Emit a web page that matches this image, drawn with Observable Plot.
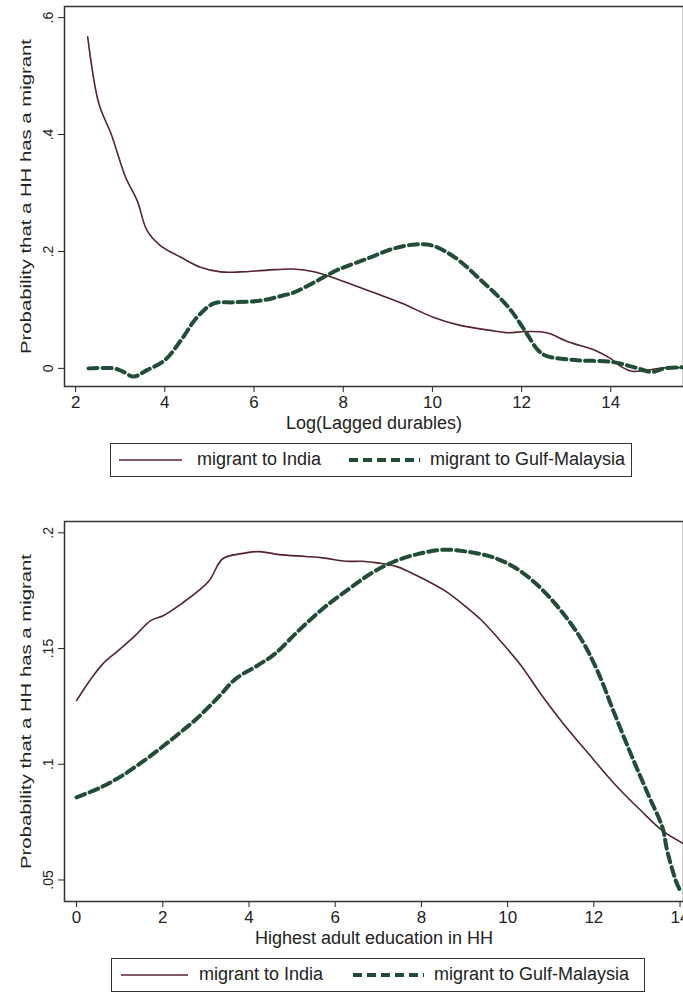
<!DOCTYPE html>
<html>
<head>
<meta charset="utf-8">
<script src="https://cdn.jsdelivr.net/npm/d3@7"></script>
<script src="https://cdn.jsdelivr.net/npm/@observablehq/plot@0.6"></script>
<style>
  html, body { margin: 0; padding: 0; background: #fff; }
  #wrap { position: relative; width: 683px; height: 992px; overflow: hidden; font-family: "Liberation Sans", Arial, sans-serif; color: #222; }
  .panel { position: absolute; left: 0; }
  .legend { position: absolute; box-sizing: border-box; border: 1.5px solid #333; height: 34px; font-size: 18px; }
  .legend .sw { position: absolute; top: 0; }
  .legend .lab { position: absolute; top: 5px; white-space: nowrap; }
  svg g[aria-label^="y-axis"] text { font-size: 14px; }
  svg g[aria-label^="x-axis"] text { font-size: 17px; }
</style>
</head>
<body>
<div id="wrap"></div>
<script>
// ---- Panel 1: Log(Lagged durables) ----
const durIndiaX = [2.27, 2.52, 2.8, 3.12, 3.38, 3.6, 3.9, 4.36, 4.8, 5.25, 5.7, 6.3, 6.87, 7.37, 7.96, 8.64, 9.33, 10.0, 10.6, 11.3, 11.7, 12.07, 12.56, 13.06, 13.64, 13.99, 14.23, 14.48, 14.82, 15.21, 15.6];
const durIndiaY = [0.567, 0.453, 0.400, 0.327, 0.287, 0.236, 0.210, 0.190, 0.173, 0.165, 0.165, 0.168, 0.170, 0.165, 0.150, 0.131, 0.111, 0.088, 0.074, 0.065, 0.061, 0.063, 0.061, 0.045, 0.031, 0.017, 0.003, -0.005, -0.003, 0.001, 0.001];
const durGulfX = [2.29, 2.86, 3.05, 3.3, 3.6, 4.0, 4.36, 4.73, 5.1, 5.55, 6.15, 6.67, 6.87, 7.37, 7.86, 8.55, 9.13, 9.62, 10.0, 10.5, 11.1, 11.7, 12.07, 12.37, 12.57, 13.25, 14.03, 14.52, 14.92, 15.2, 15.6];
const durGulfY = [0.000, 0.000, -0.005, -0.014, -0.003, 0.014, 0.048, 0.088, 0.111, 0.113, 0.116, 0.125, 0.129, 0.148, 0.168, 0.188, 0.205, 0.212, 0.210, 0.190, 0.150, 0.105, 0.065, 0.031, 0.021, 0.014, 0.011, 0.002, -0.006, 0.000, 0.002];
const durXTicks = [2, 4, 6, 8, 10, 12, 14];
const durYTicks = [0, 0.2, 0.4, 0.6];

// ---- Panel 2: Highest adult education in HH ----
const eduIndiaX = [0, 0.30, 0.61, 0.96, 1.36, 1.72, 2.02, 2.48, 2.83, 3.08, 3.39, 3.79, 4.24, 4.70, 5.31, 5.71, 6.27, 6.62, 7.02, 7.43, 7.73, 8.09, 8.54, 8.95, 9.40, 9.86, 10.31, 10.77, 11.27, 11.88, 12.48, 13.09, 13.59, 14.08];
const eduIndiaY = [0.1275, 0.136, 0.1434, 0.149, 0.1556, 0.1621, 0.1643, 0.170, 0.175, 0.1794, 0.1888, 0.1909, 0.1919, 0.1906, 0.1898, 0.1892, 0.1877, 0.1877, 0.1869, 0.1854, 0.183, 0.1797, 0.175, 0.1693, 0.1621, 0.1527, 0.1427, 0.1304, 0.1181, 0.1045, 0.0915, 0.080, 0.0713, 0.0657];
const eduGulfX = [0, 0.56, 1.06, 1.67, 2.27, 2.78, 3.29, 3.69, 4.20, 4.60, 5.11, 5.71, 6.32, 6.82, 7.33, 7.93, 8.54, 9.15, 9.65, 10.16, 10.66, 11.17, 11.68, 12.08, 12.48, 12.89, 13.29, 13.59, 13.70, 13.90, 14.0];
const eduGulfY = [0.0857, 0.090, 0.0951, 0.103, 0.1117, 0.1196, 0.129, 0.1369, 0.1427, 0.1477, 0.157, 0.1672, 0.1758, 0.1823, 0.1873, 0.1909, 0.1927, 0.1916, 0.1895, 0.1851, 0.178, 0.1679, 0.1549, 0.1405, 0.1218, 0.103, 0.0857, 0.0728, 0.0628, 0.0498, 0.0455];
const eduXTicks = [0, 2, 4, 6, 8, 10, 12, 14];
const eduYTicks = [0.05, 0.1, 0.15, 0.2];

const seriesNames = ["migrant to India", "migrant to Gulf-Malaysia"];
const yTitle = "Probability that a HH has a migrant";

const indiaColor = "#56222c";
const gulfColor = "#1f4d36";

const toRows = (xs, ys) => xs.map((x, i) => ({x, y: ys[i]}));
const stataFmt = d => d === 0 ? "0" : String(+d.toFixed(3)).replace(/^0\./, ".");

function panel({indiaX, indiaY, gulfX, gulfY, xTicks, yTicks, xDomain, yDomain, xLabel}) {
  return Plot.plot({
    width: 683,
    height: 430,
    marginTop: 6,
    marginBottom: 44,
    marginLeft: 64,
    marginRight: 0,
    style: {fontFamily: "Liberation Sans, Arial, sans-serif", fontSize: "16px", color: "#222", background: "white", overflow: "visible"},
    x: {domain: xDomain, ticks: xTicks, tickFormat: d => String(d), tickSize: 6, tickPadding: 3, label: xLabel, labelAnchor: "center", labelOffset: 42, labelArrow: "none"},
    y: {domain: yDomain, ticks: yTicks, tickFormat: stataFmt, tickSize: 6, tickPadding: 6, tickRotate: -90, label: yTitle, labelAnchor: "center", labelOffset: 44, labelArrow: "none"},
    marks: [
      Plot.frame({stroke: "#333", strokeWidth: 1.5}),
      Plot.line(toRows(indiaX, indiaY), {x: "x", y: "y", stroke: indiaColor, strokeWidth: 1.6, curve: "catmull-rom"}),
      Plot.line(toRows(gulfX, gulfY), {x: "x", y: "y", stroke: gulfColor, strokeWidth: 4, strokeDasharray: "9,5", curve: "catmull-rom"})
    ]
  });
}

function legend(left, top, width, items) {
  const d = document.createElement("div");
  d.className = "legend";
  d.style.left = left + "px";
  d.style.top = top + "px";
  d.style.width = width + "px";
  items.forEach(it => {
    const s = document.createElementNS("http://www.w3.org/2000/svg", "svg");
    s.setAttribute("class", "sw");
    s.setAttribute("width", it.w);
    s.setAttribute("height", 32);
    s.style.left = it.sx + "px";
    const l = document.createElementNS("http://www.w3.org/2000/svg", "line");
    l.setAttribute("x1", 0); l.setAttribute("x2", it.w);
    l.setAttribute("y1", 16); l.setAttribute("y2", 16);
    l.setAttribute("stroke", it.color);
    l.setAttribute("stroke-width", it.sw);
    if (it.dash) l.setAttribute("stroke-dasharray", it.dash);
    s.appendChild(l);
    d.appendChild(s);
    const t = document.createElement("div");
    t.className = "lab";
    t.style.left = it.tx + "px";
    t.textContent = it.label;
    d.appendChild(t);
  });
  return d;
}

const wrap = document.getElementById("wrap");

const p1 = document.createElement("div");
p1.className = "panel"; p1.style.top = "0px";
p1.appendChild(panel({indiaX: durIndiaX, indiaY: durIndiaY, gulfX: durGulfX, gulfY: durGulfY,
  xTicks: durXTicks, yTicks: durYTicks, xDomain: [1.75, 15.63], yDomain: [-0.031, 0.619], xLabel: "Log(Lagged durables)"}));
wrap.appendChild(p1);

const p2 = document.createElement("div");
p2.className = "panel"; p2.style.top = "515px";
p2.appendChild(panel({indiaX: eduIndiaX, indiaY: eduIndiaY, gulfX: eduGulfX, gulfY: eduGulfY,
  xTicks: eduXTicks, yTicks: eduYTicks, xDomain: [-0.28, 14.08], yDomain: [0.0407, 0.2049], xLabel: "Highest adult education in HH"}));
wrap.appendChild(p2);

wrap.appendChild(legend(110, 443, 522, [
  {sx: 8, w: 63, color: indiaColor, sw: 1.6, tx: 86, label: seriesNames[0]},
  {sx: 238, w: 71, color: gulfColor, sw: 4, dash: "9,5", tx: 319, label: seriesNames[1]}
]));
wrap.appendChild(legend(111, 958, 534, [
  {sx: 9, w: 67, color: indiaColor, sw: 1.6, tx: 87, label: seriesNames[0]},
  {sx: 241, w: 71, color: gulfColor, sw: 4, dash: "9,5", tx: 322, label: seriesNames[1]}
]));

// Axis-title styling: x titles larger, y titles stretched to the reference's length
document.querySelectorAll("svg text").forEach(t => {
  const s = t.textContent.trim();
  if (s.startsWith(yTitle)) {
    t.style.fontSize = "15px";
    t.setAttribute("textLength", 315);
    t.setAttribute("lengthAdjust", "spacingAndGlyphs");
  } else if (s.startsWith("Log(Lagged") || s.startsWith("Highest adult")) {
    t.style.fontSize = "18px";
  }
});
</script>
</body>
</html>
